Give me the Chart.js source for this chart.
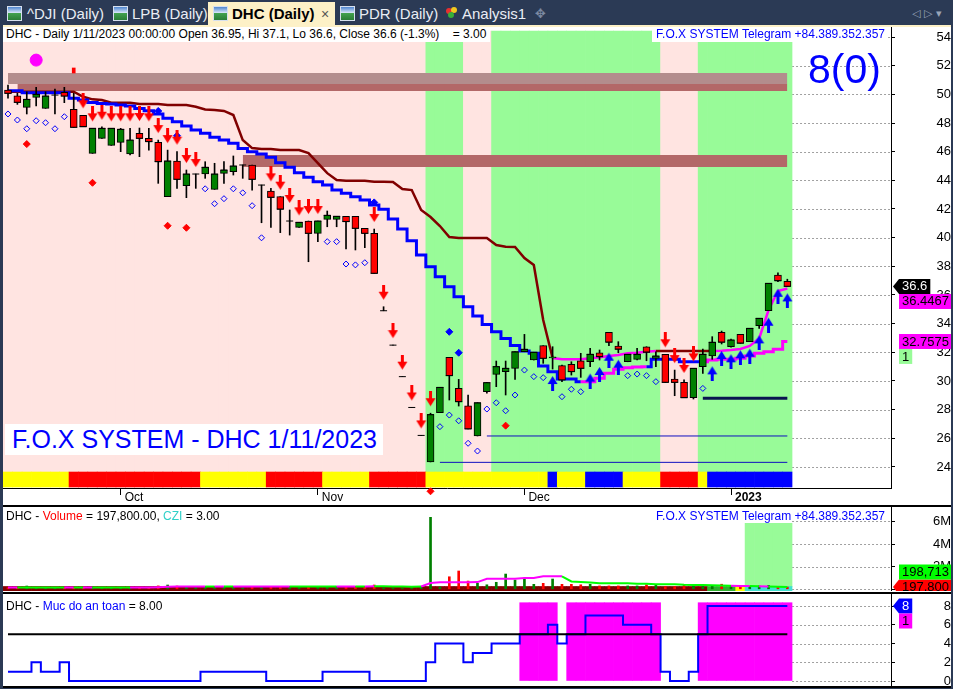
<!DOCTYPE html>
<html>
<head>
<meta charset="utf-8">
<script src="https://cdn.jsdelivr.net/npm/chart.js@4.4.1/dist/chart.umd.min.js"></script>
<style>
  body { margin: 0; width: 953px; height: 689px; overflow: hidden; position: relative;
         background: #2b3a55; font-family: "Liberation Sans", Arial, sans-serif; }
  .abs { position: absolute; }
  .tabtxt { position: absolute; top: 4px; font-size: 15px; line-height: 20px; color: #e9edf4; white-space: nowrap; }
  .ico { position: absolute; top: 6px; width: 13px; height: 13px; border: 1px solid #d6e0ee;
         background: linear-gradient(to bottom, #4f86d0 0%, #d8e6f7 45%, #43a34f 46%, #2a7d36 100%); }
  .hdr { position: absolute; font-size: 12px; line-height: 14px; white-space: nowrap; background: #fff; color: #000; }
  .sep { position: absolute; left: 3px; width: 948px; height: 2px; background: #000; }
  canvas { position: absolute; left: 3px; }
</style>
</head>
<body>
<!-- tab strip -->
<div class="abs" style="left:208px;top:2px;width:127px;height:25px;background:#fdf1c7"></div>
<div class="abs" style="left:3px;top:25px;width:948px;height:2px;background:#fdf1c7"></div>
<div class="ico" style="left:7px"></div><div class="tabtxt" style="left:27px">^DJI (Daily)</div>
<div class="ico" style="left:113px"></div><div class="tabtxt" style="left:132px">LPB (Daily)</div>
<div class="ico" style="left:213px"></div><div class="tabtxt" style="left:232px;color:#000;font-weight:bold">DHC (Daily)</div>
<div class="tabtxt" style="left:321px;color:#555;font-size:14px">×</div>
<div class="ico" style="left:340px"></div><div class="tabtxt" style="left:359px">PDR (Daily)</div>
<div class="abs" style="left:446px;top:8px;width:6px;height:6px;border-radius:3px;background:#e83030"></div>
<div class="abs" style="left:451px;top:7px;width:6px;height:6px;border-radius:3px;background:#f2c81e"></div>
<div class="abs" style="left:448px;top:12px;width:6px;height:6px;border-radius:3px;background:#38b038"></div>
<div class="tabtxt" style="left:462px">Analysis1</div>
<div class="tabtxt" style="left:535px;color:#7d8aa3;font-family:'DejaVu Sans';font-size:13px">✥</div>
<div class="tabtxt" style="left:912px;color:#9aa5b8;font-family:'DejaVu Sans';font-size:11px">◁ ▷ ▾</div>

<!-- chart frame -->
<div class="abs" style="left:3px;top:27px;width:948px;height:661px;background:#fff"></div>
<canvas id="cMain" width="948" height="478" style="top:27px"></canvas>
<canvas id="cVol" width="948" height="84" style="top:507px"></canvas>
<canvas id="cSafe" width="948" height="92" style="top:594px"></canvas>
<div class="sep" style="top:505px"></div>
<div class="sep" style="top:592px"></div>
<div class="sep" style="top:686px"></div>

<!-- pane titles -->
<div class="hdr" style="left:3px;top:27px;width:484px;height:15px;padding-left:3px">DHC - Daily 1/11/2023 00:00:00 Open 36.95, Hi 37.1, Lo 36.6, Close 36.6 (-1.3%)&nbsp;&nbsp;&nbsp;&nbsp;= 3.00</div>
<div class="hdr" style="left:652px;top:27px;width:233px;height:15px;text-align:right;padding-right:3px;color:#0000ff">F.O.X SYSTEM Telegram +84.389.352.357</div>
<div class="abs" style="left:808px;top:49px;font-size:41px;line-height:41px;color:#0000ff">8(0)</div>
<div class="abs" style="left:5px;top:424px;width:371px;height:31px;padding-left:7px;background:#fff;color:#0000ff;font-size:25px;line-height:31px;white-space:nowrap">F.O.X SYSTEM - DHC 1/11/2023</div>

<div class="hdr" style="left:6px;top:509px;background:transparent">DHC - <span style="color:#ff0000">Volume</span> = 197,800.00, <span style="color:#30d0c8">CZI</span> = 3.00</div>
<div class="hdr" style="left:652px;top:509px;width:233px;text-align:right;color:#0000ff;background:transparent">F.O.X SYSTEM Telegram +84.389.352.357</div>
<div class="hdr" style="left:6px;top:599px;background:transparent">DHC - <span style="color:#0000ff">Muc do an toan</span> = 8.00</div>

<script>
// ---- data (15 Sep 2022 .. 11 Jan 2023, 84 sessions) ----
const monthTicks = [12, 33, 55, 77];
const monthLabels = ['Oct', 'Nov', 'Dec', '2023'];
const priceTicks = [24, 26, 28, 30, 32, 34, 36, 38, 40, 42, 44, 46, 48, 50, 52, 54];
const volumeTicks = [0, 2000000, 4000000, 6000000];
const safetyTicks = [0, 2, 4, 6, 8];

const opens = [50.30, 49.90, 49.09, 49.79, 49.02, 49.95, 50.14, 48.95, 48.54, 45.88,
  46.93, 46.44, 46.65, 45.84, 47.28, 46.93, 46.65, 42.86, 45.35, 43.63,
  44.44, 44.44, 43.37, 44.49, 44.60, 45.07, 45.07, 43.67, 43.25, 42.86,
  41.16, 40.72, 41.16, 40.30, 41.28, 41.28, 41.49, 41.49, 40.65, 40.30,
  34.90, 32.50, 30.30, 28.15, 26.20, 24.35, 27.78, 31.65, 29.48, 28.27,
  26.16, 29.25, 30.46, 30.65, 30.88, 32.04, 31.46, 32.46, 31.60, 31.07,
  31.16, 31.41, 31.34, 31.97, 33.39, 32.44, 31.34, 31.51, 32.39, 31.58,
  31.86, 30.13, 29.90, 28.83, 31.00, 31.74, 33.39, 32.39, 33.25, 32.74,
  33.86, 34.90, 37.39, 36.95];
const highs = [50.65, 50.07, 50.18, 50.49, 50.18, 50.37, 50.49, 50.07, 48.54, 47.63,
  47.74, 47.63, 47.63, 47.63, 47.65, 47.63, 46.81, 46.11, 46.00, 44.72,
  44.44, 45.30, 45.19, 45.30, 45.70, 45.07, 45.07, 43.67, 43.44, 42.86,
  41.93, 41.07, 41.16, 41.16, 41.86, 41.49, 41.49, 41.49, 40.65, 40.60,
  35.18, 32.50, 30.30, 28.15, 26.20, 27.75, 29.55, 31.65, 30.11, 29.02,
  28.48, 29.88, 31.39, 31.39, 32.04, 33.25, 32.00, 32.46, 32.39, 31.11,
  31.34, 31.93, 32.28, 32.16, 33.39, 32.74, 31.86, 32.28, 32.39, 32.04,
  31.86, 30.76, 30.07, 30.88, 32.23, 33.09, 33.48, 32.93, 33.25, 33.67,
  34.37, 36.81, 37.55, 37.10];
const lows = [49.74, 49.30, 48.63, 49.19, 49.02, 48.63, 49.42, 47.70, 47.74, 45.88,
  46.93, 46.44, 46.00, 45.77, 45.65, 46.11, 43.79, 42.86, 43.44, 42.79,
  43.44, 44.14, 43.37, 43.79, 44.37, 44.14, 43.32, 41.04, 40.72, 40.35,
  40.18, 40.72, 38.32, 39.72, 40.76, 40.76, 39.21, 39.14, 39.30, 37.51,
  34.90, 32.50, 30.30, 28.15, 26.20, 24.35, 27.78, 28.67, 28.25, 26.65,
  26.16, 29.14, 29.60, 29.02, 30.11, 32.04, 31.46, 31.23, 30.83, 29.95,
  30.41, 30.25, 31.00, 31.46, 32.46, 31.97, 31.34, 31.46, 31.41, 31.00,
  29.90, 28.97, 28.83, 28.74, 30.53, 31.51, 32.58, 32.35, 32.63, 32.74,
  33.67, 34.90, 36.92, 36.60];
const closes = [50.07, 49.44, 49.65, 50.00, 49.88, 49.95, 49.88, 47.70, 47.74, 47.63,
  47.63, 47.63, 47.56, 46.81, 46.93, 46.70, 45.30, 45.35, 44.07, 44.44,
  44.44, 44.91, 44.44, 44.72, 45.00, 45.07, 44.07, 43.67, 42.81, 41.98,
  41.16, 41.07, 40.30, 41.16, 41.56, 41.49, 41.12, 40.65, 40.30, 37.51,
  34.90, 32.50, 30.30, 28.15, 26.20, 27.65, 29.55, 30.37, 28.55, 26.65,
  28.48, 29.88, 31.00, 30.88, 32.04, 32.21, 32.00, 31.58, 31.65, 30.07,
  30.65, 30.88, 31.86, 31.69, 32.70, 32.21, 31.86, 31.86, 32.00, 31.74,
  29.90, 29.90, 28.83, 30.88, 31.86, 32.70, 32.70, 32.86, 32.63, 33.67,
  34.37, 36.81, 36.99, 36.60];

// slow upper trail (dark red while falling, magenta while rising)
const trailUpper = [50.18, 50.18, 50.18, 50.18, 50.18, 50.18, 50.18, 50.18, 49.83, 49.65,
  49.60, 49.42, 49.42, 49.42, 49.32, 49.32, 49.32, 49.25, 49.25, 49.25,
  49.14, 48.95, 48.91, 48.84, 48.56, 46.81, 46.25, 46.18, 46.18, 46.11,
  46.11, 46.11, 45.90, 45.20, 44.50, 44.02, 43.97, 43.97, 43.97, 43.90,
  43.90, 43.88, 43.39, 43.32, 41.93, 41.44, 40.81, 40.04, 39.97, 39.97,
  39.97, 39.97, 39.49, 39.37, 39.35, 38.58, 38.09, 34.25, 31.60, 31.51,
  31.51, 31.51, 31.58, 31.65, 31.74, 31.81, 31.93, 31.97, 32.04, 32.09,
  32.09, 32.09, 32.09, 32.09, 32.09, 32.09, 32.11, 32.16, 32.23, 32.44,
  32.97, 34.95, 36.28, 36.4467];
const upperRisingZones = [[58, 68], [75, 83]];

// stepped trailing stop (blue in down trend, magenta in up trend)
const trailLower = [50.25, 50.25, 50.11, 50.11, 50.11, 50.11, 50.11, 49.72, 49.60, 49.44,
  49.37, 49.32, 49.25, 49.18, 49.02, 48.86, 48.63, 48.33, 48.09, 47.79,
  47.51, 47.28, 47.00, 46.81, 46.58, 46.23, 46.00, 45.84, 45.61, 45.23,
  44.91, 44.53, 44.21, 43.90, 43.67, 43.32, 43.09, 42.86, 42.63, 42.28,
  41.98, 41.30, 40.60, 39.79, 38.79, 37.97, 37.27, 36.58, 35.88, 35.18,
  34.53, 33.94, 33.43, 32.97, 32.47, 32.09, 31.93, 31.04, 30.64, 30.13,
  30.13, 29.95, 29.95, 30.18, 30.53, 30.81, 30.92, 30.97, 30.99, 31.51,
  31.51, 31.51, 31.34, 31.34, 31.34, 31.46, 31.51, 31.51, 31.58, 31.74,
  31.93, 32.04, 32.21, 32.7575];
const lowerRisingZones = [[62, 68], [75, 83]];

const greenZones = [[45, 48], [52, 69], [74, 83]];
const ribbonRed = [[7, 20], [28, 33], [39, 44], [70, 73]];
const ribbonBlue = [[58, 58], [62, 65], [75, 83]];

const resistanceBands = [
  { from: 0, to: 83, top: 51.49, bottom: 50.72 },
  { from: 1, to: 83, top: 50.72, bottom: 50.23 },
  { from: 25, to: 83, top: 45.77, bottom: 44.93 }
];
const levelLines = [{ from: 51, to: 83, price: 26.16 }, { from: 46, to: 83, price: 24.32 }];
const supportLine = { from: 74, to: 83, price: 28.79 };

const sellBars = [8, 9, 10, 11, 12, 13, 14, 15, 16, 17, 18, 19, 20, 28, 29, 30, 31, 32, 33,
  39, 40, 41, 42, 43, 44, 45, 70, 71, 72, 73];
const buyBars = [58, 62, 63, 64, 65, 75, 76, 77, 78, 79, 80, 81, 82, 83];

const hollowBars = [0, 1, 2, 3, 4, 5, 6, 21, 22, 23, 24, 25, 26, 27, 34, 35, 36, 37, 38,
  46, 47, 48, 49, 50, 51, 52, 53, 54, 55, 56, 57, 59, 60, 61, 66, 67, 68, 69, 74];
const hollowPrices = [48.63, 48.21, 47.60, 48.16, 48.02, 47.60, 48.44, 43.41, 42.37, 42.72,
  43.41, 43.13, 42.23, 39.99, 39.72, 39.72, 38.16, 38.10, 38.25, 26.81, 27.62, 27.22, 25.65,
  25.11, 28.04, 28.48, 27.92, 29.02, 30.76, 30.30, 30.23, 28.90, 29.42, 29.25, 30.37, 30.48,
  30.37, 29.95, 29.48];
const blueDotBars = [16, 18, 39, 47, 48];
const blueDotPrices = [48.84, 47.11, 42.46, 33.43, 31.97];
const redDotBars = [2, 9, 17, 19, 53, 45];
const redDotPrices = [46.53, 43.83, 40.83, 40.69, 26.88, 22.30];
const topDot = { bar: 3, price: 52.39 };
const topTick = { bar: 7, low: 51.49, high: 51.84 };

const volumes = [150000, 120000, 290000, 140000, 130000, 160000, 120000, 180000, 150000, 200000,
  140000, 160000, 150000, 170000, 130000, 150000, 300000, 380000, 290000, 170000,
  140000, 160000, 150000, 180000, 140000, 130000, 170000, 150000, 190000, 160000,
  140000, 150000, 180000, 160000, 140000, 130000, 170000, 150000, 160000, 380000,
  120000, 90000, 80000, 90000, 230000, 6370000, 200000, 1110000, 1620000, 730000,
  530000, 400000, 620000, 1350000, 820000, 970000, 440000, 530000, 910000, 440000,
  440000, 400000, 440000, 300000, 300000, 300000, 300000, 300000, 400000, 400000,
  250000, 250000, 350000, 300000, 250000, 300000, 450000, 250000, 200000, 250000,
  300000, 350000, 250000, 197800];
const volumeMA = [160000, 170000, 160000, 160000, 155000, 150000, 150000, 160000, 155000, 165000,
  160000, 160000, 155000, 160000, 160000, 165000, 190000, 220000, 240000, 250000,
  250000, 245000, 245000, 250000, 250000, 245000, 250000, 250000, 255000, 255000,
  250000, 250000, 255000, 255000, 250000, 245000, 250000, 250000, 250000, 270000,
  260000, 250000, 240000, 230000, 250000, 550000, 620000, 620000, 620000, 620000,
  640000, 930000, 930000, 930000, 930000, 1000000, 1000000, 1150000, 1150000, 1150000,
  700000, 650000, 600000, 530000, 530000, 530000, 530000, 500000, 500000, 450000,
  450000, 450000, 400000, 380000, 370000, 350000, 330000, 320000, 300000, 290000,
  270000, 250000, 220000, 198713];
const volumeMARising = [[1, 1], [7, 7], [9, 9], [14, 21], [23, 23], [25, 30], [36, 37], [39, 39],
  [45, 59], [78, 79], [81, 81]];
const volumeStripGreen = [[75, 77]], volumeStripYellow = [[78, 78]], volumeStripCyan = [[79, 83]];
const volumeZone = [[79, 83]];

const safety = [1, 1, 1, 2, 1, 1, 2, 0, 0, 0, 0, 0, 0, 0, 0, 0, 0, 0, 0, 0,
  0, 1, 1, 1, 1, 1, 1, 1, 0, 0, 0, 0, 0, 0, 1, 1, 1, 1, 1, 0,
  0, 0, 0, 0, 0, 2, 4, 4, 4, 2, 3, 3, 4, 4, 4, 5, 5, 5, 6, 4,
  5, 5, 7, 7, 7, 7, 6, 6, 6, 5, 1, 0, 0, 1, 5, 8, 8, 8, 8, 8,
  8, 8, 8, 8];
const safetyLevel = 5;
const sideFlagMain = '1', sideFlagSafety = '1';

// ---- drawing ----
const FONT = "'Liberation Sans', Arial, sans-serif";
Chart.defaults.font.family = FONT;
const X_MIN = -0.532, X_MAX = 94.04;
const bars = opens.map((_, i) => i);
const last = bars.length - 1;
const inRanges = (i, ranges) => ranges.some(([a, b]) => i >= a && i <= b);
const isUp = i => closes[i] >= opens[i];

function mkArrow(color, down) {
  const c = document.createElement('canvas');
  c.width = 11; c.height = 44;
  const g = c.getContext('2d');
  g.fillStyle = color;
  if (down) {
    g.fillRect(4, 0, 3, 8);
    g.beginPath(); g.moveTo(0.5, 7); g.lineTo(10.5, 7); g.lineTo(5.5, 15); g.closePath(); g.fill();
  } else {
    g.fillRect(4, 36, 3, 8);
    g.beginPath(); g.moveTo(0.5, 37); g.lineTo(10.5, 37); g.lineTo(5.5, 29); g.closePath(); g.fill();
  }
  return c;
}
const downArrow = mkArrow('#ff0000', true);
const upArrow = mkArrow('#0000ff', false);

const fullBar = { type: 'bar', barPercentage: 1, categoryPercentage: 1, grouped: false, borderWidth: 0 };
const dots = { type: 'line', showLine: false, borderWidth: 1 };

function xAxis(extra) {
  return Object.assign({ type: 'linear', min: X_MIN, max: X_MAX, offset: false, display: false,
    grid: { offset: false } }, extra || {});
}
function yAxis(min, max, ticks, pad, cb) {
  return {
    type: 'linear', position: 'right', min, max, offset: false,
    afterBuildTicks: s => { s.ticks = ticks.map(v => ({ value: v })); },
    afterFit: s => { s.width = 60; s.paddingTop = 0; s.paddingBottom = 0; },
    ticks: { autoSkip: false, crossAlign: 'far', padding: pad, color: '#000', font: { size: 13 }, callback: cb },
    grid: { drawOnChartArea: false, tickLength: 4, tickColor: '#000', offset: false },
    border: { color: '#000' }
  };
}

// dotted grid only in the blank area right of the last bar
const rightGrid = {
  id: 'rightGrid',
  beforeDatasetsDraw(chart) {
    const { ctx, chartArea, scales: { x, y } } = chart;
    const x0 = x.getPixelForValue(last + 0.5);
    ctx.save();
    ctx.strokeStyle = '#a0a0a0'; ctx.lineWidth = 1; ctx.setLineDash([2, 2]);
    y.ticks.forEach(t => {
      const py = Math.round(y.getPixelForValue(t.value)) + 0.5;
      ctx.beginPath(); ctx.moveTo(x0, py); ctx.lineTo(chartArea.right, py); ctx.stroke();
    });
    ctx.restore();
  }
};

function drawTag(ctx, text, cy, x0, bg, fg, pointer) {
  ctx.save();
  ctx.font = '13px ' + FONT;
  const w = ctx.measureText(text).width + 6, h = 15, top = cy - h / 2;
  ctx.fillStyle = bg;
  ctx.beginPath();
  if (pointer) { ctx.moveTo(x0 - 6, cy); ctx.lineTo(x0, top); } else ctx.moveTo(x0, top);
  ctx.lineTo(x0 + w, top); ctx.lineTo(x0 + w, top + h); ctx.lineTo(x0, top + h);
  ctx.closePath(); ctx.fill();
  ctx.fillStyle = fg; ctx.textBaseline = 'middle'; ctx.textAlign = 'left';
  ctx.fillText(text, x0 + 3, cy + 0.5);
  ctx.restore();
  return { top, bottom: top + h };
}
// place: 'value' at its value, 'below' at value but not over the previous tag,
// 'after' right under the previous tag, 'above' right over the previous tag
function tagPlugin(list) {
  return {
    id: 'tags',
    afterDraw(chart) {
      const { ctx, chartArea, scales: { y } } = chart;
      const x0 = chartArea.right + 8;
      let prev = { top: Infinity, bottom: -Infinity };
      list.forEach(t => {
        let cy;
        if (t.place === 'after') cy = prev.bottom + 7.5;
        else if (t.place === 'above') cy = prev.top - 7.5;
        else {
          cy = y.getPixelForValue(t.value);
          if (t.place === 'below') cy = Math.max(cy, prev.bottom + 7.5);
        }
        prev = drawTag(ctx, t.text, cy, x0, t.bg, t.fg, t.pointer);
      });
    }
  };
}

const baseOptions = {
  responsive: false, animation: false, devicePixelRatio: 1, events: [],
  layout: { padding: 0, autoPadding: false },
  plugins: { legend: { display: false }, tooltip: { enabled: false } }
};

// main price pane
new Chart(document.getElementById('cMain'), {
  type: 'line',
  data: {
    datasets: [
      Object.assign({}, fullBar, { order: 100,
        data: bars.map(i => ({ x: i, y: [23.645, 54.42] })),
        backgroundColor: bars.map(i => inRanges(i, greenZones) ? '#98fb98' : '#ffe4e1') }),
      Object.assign({}, fullBar, { order: 99,
        data: bars.map(i => ({ x: i, y: [22.60, 23.645] })),
        backgroundColor: bars.map(i => inRanges(i, ribbonRed) ? '#ff0000' : inRanges(i, ribbonBlue) ? '#0000ff' : '#ffff00') }),
      ...resistanceBands.map((b, k) => ({ type: 'line', order: 98,
        data: [{ x: b.from, y: b.top }, { x: b.to, y: b.top }],
        fill: { value: b.bottom }, backgroundColor: k === 0 ? '#b38d8d' : '#b36868',
        borderWidth: 0, pointRadius: 0 })),
      ...levelLines.map(l => ({ type: 'line', order: 97,
        data: [{ x: l.from, y: l.price }, { x: l.to, y: l.price }],
        borderColor: '#1010c0', borderWidth: 1, pointRadius: 0 })),
      { type: 'line', order: 96,
        data: [{ x: supportLine.from, y: supportLine.price }, { x: supportLine.to, y: supportLine.price }],
        borderColor: '#0a1450', borderWidth: 3, pointRadius: 0 },
      { type: 'line', order: 95, data: bars.map(i => ({ x: i, y: trailUpper[i] })),
        borderColor: '#800000', borderWidth: 2.5, pointRadius: 0,
        segment: { borderColor: c => inRanges(c.p0DataIndex, upperRisingZones) ? '#ff00ff' : '#800000' } },
      { type: 'line', order: 94, data: bars.map(i => ({ x: i, y: trailLower[i] })),
        stepped: 'middle', borderColor: '#0000ff', borderWidth: 3, pointRadius: 0,
        segment: { borderColor: c => inRanges(c.p1DataIndex, lowerRisingZones) ? '#ff00ff' : '#0000ff' } },
      { type: 'bar', order: 90, grouped: false, barThickness: 1,
        data: bars.map(i => ({ x: i, y: [lows[i], highs[i]] })), backgroundColor: '#000', borderWidth: 0 },
      Object.assign({}, dots, { order: 89, data: bars.map(i => ({ x: i, y: closes[i] })),
        pointStyle: 'line', pointRadius: 3.5, borderColor: '#000' }),
      { type: 'bar', order: 88, grouped: false, barThickness: 7,
        data: bars.map(i => ({ x: i, y: [opens[i], closes[i]] })),
        backgroundColor: bars.map(i => isUp(i) ? '#008000' : '#ff0000'),
        borderColor: '#000', borderWidth: 1, borderSkipped: false },
      Object.assign({}, dots, { order: 80, data: hollowBars.map((b, k) => ({ x: b, y: hollowPrices[k] })),
        pointStyle: 'rectRot', pointRadius: 3, borderColor: '#0000ff', backgroundColor: 'rgba(0,0,0,0)' }),
      Object.assign({}, dots, { order: 79, data: blueDotBars.map((b, k) => ({ x: b, y: blueDotPrices[k] })),
        pointStyle: 'rectRot', pointRadius: 3.5, borderColor: '#0000ff', backgroundColor: '#0000ff' }),
      Object.assign({}, dots, { order: 79, clip: false, data: redDotBars.map((b, k) => ({ x: b, y: redDotPrices[k] })),
        pointStyle: 'rectRot', pointRadius: 3.5, borderColor: '#ff0000', backgroundColor: '#ff0000' }),
      Object.assign({}, dots, { order: 78, data: [{ x: topDot.bar, y: topDot.price }],
        pointStyle: 'circle', pointRadius: 6, borderColor: '#ff00ff', backgroundColor: '#ff00ff' }),
      { type: 'bar', order: 77, grouped: false, barThickness: 3,
        data: [{ x: topTick.bar, y: [topTick.low, topTick.high] }], backgroundColor: '#ff0000', borderWidth: 0 },
      Object.assign({}, dots, { order: 70, data: sellBars.map(i => ({ x: i, y: highs[i] })),
        pointStyle: downArrow, pointRadius: 5 }),
      Object.assign({}, dots, { order: 70, data: buyBars.map(i => ({ x: i, y: lows[i] })),
        pointStyle: upArrow, pointRadius: 5 })
    ]
  },
  options: Object.assign({}, baseOptions, {
    scales: {
      x: xAxis({
        display: true, position: 'bottom',
        afterBuildTicks: s => { s.ticks = monthTicks.map(v => ({ value: v })); },
        afterFit: s => { s.height = 17; s.paddingLeft = 0; s.paddingRight = 0; },
        ticks: { autoSkip: false, maxRotation: 0, align: 'start', labelOffset: 4, padding: -5, color: '#000',
          font: c => ({ size: 12, weight: c.index === 3 ? 'bold' : 'normal' }),
          callback: (v, i) => monthLabels[i] },
        grid: { drawOnChartArea: false, offset: false, tickLength: 7, tickColor: '#000', color: '#000' },
        border: { color: '#000' }
      }),
      y: yAxis(22.53, 54.70, priceTicks, 37)
    }
  }),
  plugins: [rightGrid, tagPlugin([
    { text: closes[last].toFixed(1), value: closes[last], bg: '#000', fg: '#fff', pointer: true },
    { text: trailUpper[last].toFixed(4), value: trailUpper[last], bg: '#ff00ff', fg: '#000', place: 'below' },
    { text: trailLower[last].toFixed(4), value: trailLower[last], bg: '#ff00ff', fg: '#000' },
    { text: sideFlagMain, bg: '#98fb98', fg: '#000', place: 'after' }
  ])]
});

// volume pane
new Chart(document.getElementById('cVol'), {
  type: 'line',
  data: {
    datasets: [
      Object.assign({}, fullBar, { order: 100,
        data: bars.filter(i => inRanges(i, volumeZone)).map(i => ({ x: i, y: [230000, 5840000] })),
        backgroundColor: '#98fb98' }),
      Object.assign({}, fullBar, { order: 99,
        data: bars.map(i => ({ x: i, y: [-150000, 250000] })),
        backgroundColor: bars.map(i => inRanges(i, volumeStripGreen) ? '#30b030' :
          inRanges(i, volumeStripYellow) ? '#ffff00' : inRanges(i, volumeStripCyan) ? '#40e0d0' : '#800000') }),
      { type: 'bar', order: 90, grouped: false, barThickness: 2,
        data: bars.map(i => ({ x: i, y: volumes[i] })),
        backgroundColor: bars.map(i => isUp(i) ? '#008000' : '#ff0000'), borderWidth: 0 },
      { type: 'line', order: 80, data: bars.map(i => ({ x: i, y: volumeMA[i] })),
        borderColor: '#00ff00', borderWidth: 2, pointRadius: 0,
        segment: { borderColor: c => inRanges(c.p1DataIndex, volumeMARising) ? '#ff00ff' : '#00ff00' } }
    ]
  },
  options: Object.assign({}, baseOptions, {
    scales: {
      x: xAxis(),
      y: yAxis(-150000, 7283000, volumeTicks, 33.5, v => v === 0 ? '' : (v / 1e6) + 'M')
    }
  }),
  plugins: [rightGrid, tagPlugin([
    { text: volumes[last].toLocaleString('en-US'), value: volumes[last], bg: '#ff0000', fg: '#000', pointer: true },
    { text: volumeMA[last].toLocaleString('en-US'), bg: '#00ff00', fg: '#000', place: 'above' }
  ])]
});

// safety level pane
new Chart(document.getElementById('cSafe'), {
  type: 'line',
  data: {
    datasets: [
      Object.assign({}, fullBar, { order: 100,
        data: bars.filter(i => safety[i] >= safetyLevel).map(i => ({ x: i, y: [0, 8.35] })),
        backgroundColor: '#ff00ff' }),
      { type: 'line', order: 90, data: bars.map(i => ({ x: i, y: safety[i] })),
        stepped: 'middle', borderColor: '#0000ff', borderWidth: 2, pointRadius: 0 },
      { type: 'line', order: 80, data: [{ x: 0, y: safetyLevel }, { x: last, y: safetyLevel }],
        borderColor: '#000', borderWidth: 2, pointRadius: 0 }
    ]
  },
  options: Object.assign({}, baseOptions, {
    scales: {
      x: xAxis(),
      y: yAxis(-0.533, 9.28, safetyTicks, 44)
    }
  }),
  plugins: [rightGrid, tagPlugin([
    { text: String(safety[last]), value: safety[last], bg: '#0000ff', fg: '#fff', pointer: true },
    { text: sideFlagSafety, bg: '#ff00ff', fg: '#000', place: 'after' }
  ])]
});
</script>
</body>
</html>
